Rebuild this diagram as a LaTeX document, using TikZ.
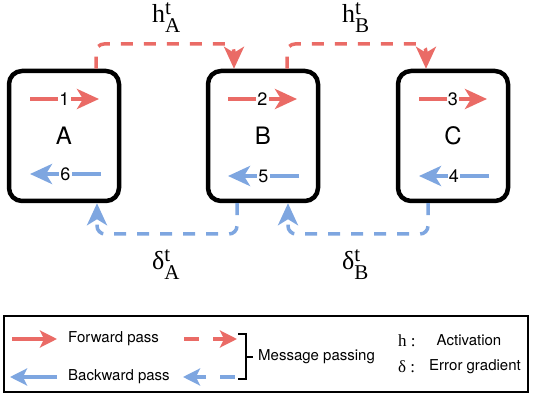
\documentclass[tikz,border=0pt]{standalone}
\usepackage{fontspec}
\setmainfont{Liberation Serif}
\setsansfont{TeX Gyre Heros}
\usetikzlibrary{arrows.meta,positioning}

\definecolor{fwdred}{HTML}{EA6B66}
\definecolor{bwdblue}{HTML}{7EA6E0}

% label with t on top and layer name below
\newcommand{\msglbl}[2]{#1\rlap{\raisebox{8pt}{\fontsize{21}{21}\selectfont t}}\raisebox{-10pt}{\fontsize{21}{21}\selectfont #2}}

\tikzset{
  unitbox/.style={draw, line width=4.5pt, rounded corners=13pt, minimum width=110pt, minimum height=130pt,
    font=\sffamily\fontsize{24}{24}\selectfont},
  tipbig/.style={-{Stealth[length=22pt,width=20pt,inset=6pt]}},
  tipsmall/.style={-{Stealth[length=17pt,width=17pt,inset=4pt]}},
  fwdarrow/.style={fwdred, line width=4.5pt, tipbig},
  bwdarrow/.style={bwdblue, line width=4.5pt, tipbig},
  fwdmsg/.style={fwdred, line width=3.5pt, dash pattern=on 12pt off 11pt, rounded corners=8pt, tipbig},
  bwdmsg/.style={bwdblue, line width=3.5pt, dash pattern=on 12pt off 11pt, rounded corners=8pt, tipbig},
  stepnum/.style={fill=white, inner sep=1pt, text=black, font=\sffamily\fontsize{18}{18}\selectfont},
  msgtext/.style={inner sep=0pt, anchor=base west, font=\fontsize{26}{26}\selectfont},
  legtext/.style={inner sep=0pt, font=\sffamily\fontsize{15}{15}\selectfont},
}

\begin{document}
\begin{tikzpicture}[x=1pt,y=-1pt]
  \useasboundingbox (0,0) rectangle (558,414);

  % the three units
  \node[unitbox] (A) at (64,136) {A};
  \node[unitbox] (B) at (263,136) {B};
  \node[unitbox] (C) at (453,136) {C};

  % passes inside the units
  \coordinate (f1s) at (30,99);  \coordinate (f1e) at (99,99);
  \coordinate (f2s) at (228,99); \coordinate (f2e) at (297,99);
  \coordinate (f3s) at (419,99); \coordinate (f3e) at (487,99);
  \coordinate (b4s) at (489,176); \coordinate (b4e) at (419,176);
  \coordinate (b5s) at (299,176); \coordinate (b5e) at (228,176);
  \coordinate (b6s) at (101,174); \coordinate (b6e) at (30,174);

  \draw[fwdarrow] (f1s) -- (f1e) node[midway, stepnum] {1};
  \draw[fwdarrow] (f2s) -- (f2e) node[midway, stepnum] {2};
  \draw[fwdarrow] (f3s) -- (f3e) node[midway, stepnum] {3};
  \draw[bwdarrow] (b4s) -- (b4e) node[midway, stepnum] {4};
  \draw[bwdarrow] (b5s) -- (b5e) node[midway, stepnum] {5};
  \draw[bwdarrow] (b6s) -- (b6e) node[midway, stepnum] {6};

  % message passing between units
  \coordinate (hA1) at (96,44);  \coordinate (hA2) at (234,44);
  \coordinate (hB1) at (287,44); \coordinate (hB2) at (426,44);
  \coordinate (dB1) at (428,234); \coordinate (dB2) at (288,234);
  \coordinate (dA1) at (237,234); \coordinate (dA2) at (97,234);

  \draw[fwdmsg] (A.north -| hA1) -- (hA1) -- (hA2) -- (B.north -| hA2);
  \draw[fwdmsg] (B.north -| hB1) -- (hB1) -- (hB2) -- (C.north -| hB2);
  \draw[bwdmsg] (C.south -| dB1) -- (dB1) -- (dB2) -- (B.south -| dB2);
  \draw[bwdmsg] (B.south -| dA1) -- (dA1) -- (dA2) -- (A.south -| dA2);

  \node[msgtext] (hA) at (152,23) {\msglbl{h}{A}};
  \node[msgtext] (hB) at (342,23) {\msglbl{h}{B}};
  \node[msgtext] (dA) at (152,270) {\msglbl{δ}{A}};
  \node[msgtext] (dB) at (342,270) {\msglbl{δ}{B}};

  % legend
  \node[draw, line width=2.5pt, minimum width=524pt, minimum height=76pt, inner sep=0pt] (legend) at (266,354) {};

  \coordinate (lf1) at (12,339);  \coordinate (lf2) at (57,339);
  \coordinate (lb1) at (57,377);  \coordinate (lb2) at (10,377);
  \coordinate (lmf1) at (184,339); \coordinate (lmf2) at (237,339);
  \coordinate (lmb1) at (235,377); \coordinate (lmb2) at (183,377);

  \draw[fwdred, line width=4pt, tipsmall] (lf1) -- (lf2);
  \draw[bwdblue, line width=4pt, tipsmall] (lb1) -- (lb2);
  \draw[fwdred, line width=4pt, dash pattern=on 15pt off 14pt, tipsmall] (lmf1) -- (lmf2);
  \draw[bwdblue, line width=4pt, dash pattern=on 15pt off 14pt, tipsmall] (lmb1) -- (lmb2);

  \node[legtext, anchor=west] (fwd) at (68,339) {Forward pass};
  \node[legtext, anchor=west] (bwd) at (68,377) {Backward pass};

  \coordinate (brt) at (238,334); \coordinate (brb) at (238,379);
  \draw[line width=2pt] (brt) -- ++(8,0) coordinate (brt2) -- (brt2 |- brb) -- (brb);
  \draw[line width=2pt] (246,357) -- (253,357);
  \node[legtext, anchor=west] (mp) at (258,357) {Message passing};

  \node[legtext, anchor=west, font=\fontsize{17}{17}\selectfont] (hkey) at (398,341) {h :};
  \node[legtext, anchor=west, font=\fontsize{17}{17}\selectfont] (dkey) at (398,367) {δ :};
  \node[legtext] (act) at (469,340) {Activation};
  \node[legtext] (err) at (475,367) {Error gradient};
\end{tikzpicture}
\end{document}
